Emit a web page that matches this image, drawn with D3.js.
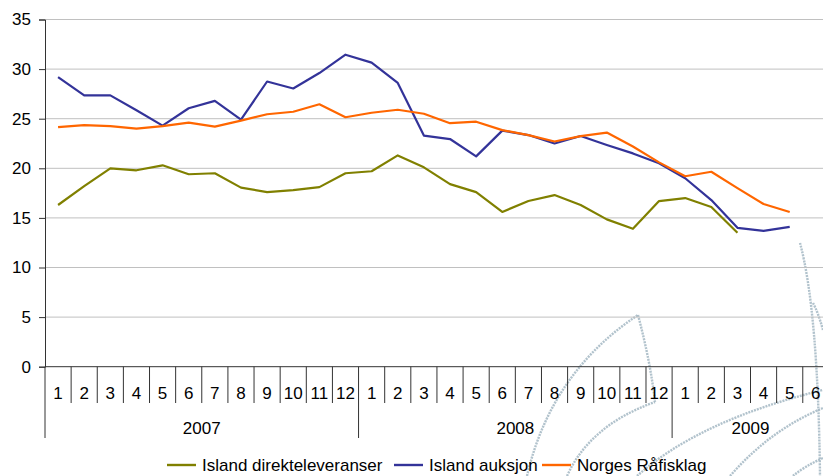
<!DOCTYPE html>
<html>
    <head>
        <script src="https://d3js.org/d3.v7.min.js"></script>
        <style>
            body { margin: 0; background: #fff; }
            svg text { font-family: "Liberation Sans", Arial, sans-serif; font-size: 17px; fill: #000; }
            .grid line { stroke: #c0c0c0; stroke-width: 1; }
            .series { fill: none; stroke-width: 2.2; stroke-linejoin: round; }
            .wm { fill: none; stroke: #a3b7c3; stroke-width: 2.4; stroke-dasharray: 2 1; opacity: 0.85; }
        </style>
    </head>
    <body>
        <svg width="823" height="476"></svg>
        <script>
            // data
            var years = ["2007", "2008", "2009"];
            var monthsPerYear = [12, 12, 6];
            var yTicks = [0, 5, 10, 15, 20, 25, 30, 35];

            var direkteleveranser = [16.3, 18.2, 20.0, 19.8, 20.3, 19.4, 19.5, 18.05, 17.6, 17.8, 18.1, 19.5,
                19.7, 21.3, 20.1, 18.4, 17.6, 15.6, 16.7, 17.3, 16.3, 14.85, 13.9, 16.7,
                17.0, 16.1, 13.5, null, null, null];
            var auksjon = [29.2, 27.35, 27.35, 25.85, 24.3, 26.05, 26.8, 24.9, 28.75, 28.05, 29.6, 31.45,
                30.65, 28.6, 23.3, 22.95, 21.2, 23.8, 23.35, 22.5, 23.25, 22.35, 21.5, 20.5,
                19.0, 16.8, 14.0, 13.7, 14.1, null];
            var rafisklag = [24.15, 24.35, 24.25, 24.0, 24.25, 24.6, 24.2, 24.8, 25.45, 25.7, 26.45, 25.15,
                25.6, 25.9, 25.5, 24.55, 24.7, 23.85, 23.35, 22.7, 23.25, 23.6, 22.2, 20.6,
                19.2, 19.65, 18.0, 16.4, 15.6, null];

            var seriesNames = ["Island direkteleveranser", "Island auksjon", "Norges Råfisklag"];
            var seriesColors = ["#808000", "#333399", "#ff6600"];
            var seriesData = [direkteleveranser, auksjon, rafisklag];

            // categories (month index within year)
            var cats = [];
            years.forEach(function(y, yi) {
                for (var m = 1; m <= monthsPerYear[yi]; m++) cats.push({year: y, month: m, key: y + "-" + m});
            });

            var svg = d3.select("svg");
            var plotLeft = 45, bandW = 26.13, plotTop = 19.5, plotBottom = 366.7;

            var x = d3.scaleBand()
                .domain(cats.map(function(d) { return d.key; }))
                .range([plotLeft, plotLeft + cats.length * bandW])
                .padding(0);
            var y = d3.scaleLinear().domain([0, 35]).range([plotBottom, plotTop]);
            var xRight = 823;

            // watermark decoration
            var wmPaths = [
                "M527,476 C540,420 570,360 638,315",
                "M638,315 C646,345 652,375 655,402",
                "M567,476 Q590,425 655,402",
                "M637,476 Q700,420 823,390",
                "M730,476 Q770,430 823,408",
                "M793,476 Q805,466 823,458",
                "M800,243 Q818,310 820,476",
                "M813,303 Q818,312 823,330"
            ];
            svg.append("g").selectAll("path").data(wmPaths).enter()
                .append("path").attr("class", "wm").attr("d", function(d) { return d; });

            // gridlines
            svg.append("g").attr("class", "grid")
                .selectAll("line").data(yTicks.filter(function(t) { return t > 0; })).enter()
                .append("line")
                .attr("x1", plotLeft).attr("x2", xRight)
                .attr("y1", function(d) { return y(d); })
                .attr("y2", function(d) { return y(d); });

            // y axis
            var yAxis = svg.append("g")
                .attr("transform", "translate(" + plotLeft + ",0)")
                .call(d3.axisLeft(y).tickValues(yTicks).tickSize(6).tickPadding(8));
            yAxis.attr("font-size", null).attr("font-family", null);
            yAxis.select(".domain").attr("stroke", "#333");
            yAxis.selectAll(".tick line").attr("stroke", "#333");

            // x axis: month ticks
            var xg = svg.append("g");
            xg.append("line")
                .attr("x1", plotLeft).attr("x2", xRight)
                .attr("y1", plotBottom).attr("y2", plotBottom)
                .attr("stroke", "#333");
            xg.selectAll(".mtick").data(cats).enter()
                .append("line")
                .attr("x1", function(d) { return x(d.key); })
                .attr("x2", function(d) { return x(d.key); })
                .attr("y1", plotBottom)
                .attr("y2", function(d) { return d.month === 1 ? 438 : 403; })
                .attr("stroke", "#333");
            xg.selectAll(".mlabel").data(cats).enter()
                .append("text")
                .attr("x", function(d) { return x(d.key) + x.bandwidth() / 2; })
                .attr("y", 399)
                .attr("text-anchor", "middle")
                .text(function(d) { return d.month; });

            // year labels
            var yearStart = 0;
            years.forEach(function(yr, yi) {
                var first = cats[yearStart].key;
                var last = cats[yearStart + monthsPerYear[yi] - 1].key;
                var cx = (x(first) + x(last) + x.bandwidth()) / 2;
                xg.append("text")
                    .attr("x", cx).attr("y", 434)
                    .attr("text-anchor", "middle")
                    .text(yr);
                yearStart += monthsPerYear[yi];
            });

            // series
            var line = d3.line()
                .defined(function(d) { return d != null; })
                .x(function(d, i) { return x(cats[i].key) + x.bandwidth() / 2; })
                .y(function(d) { return y(d); });

            svg.append("g").selectAll("path").data(seriesData).enter()
                .append("path")
                .attr("class", "series")
                .attr("stroke", function(d, i) { return seriesColors[i]; })
                .attr("d", line);

            // legend
            var legendX = [167, 394, 542];
            var legend = svg.append("g").selectAll("g").data(seriesNames).enter()
                .append("g")
                .attr("transform", function(d, i) { return "translate(" + legendX[i] + ",465)"; });
            legend.append("line")
                .attr("x1", 0).attr("x2", 29)
                .attr("stroke", function(d, i) { return seriesColors[i]; })
                .attr("stroke-width", 2.4);
            legend.append("text")
                .attr("x", 35).attr("y", 6)
                .text(function(d) { return d; });
        </script>
    </body>
</html>
